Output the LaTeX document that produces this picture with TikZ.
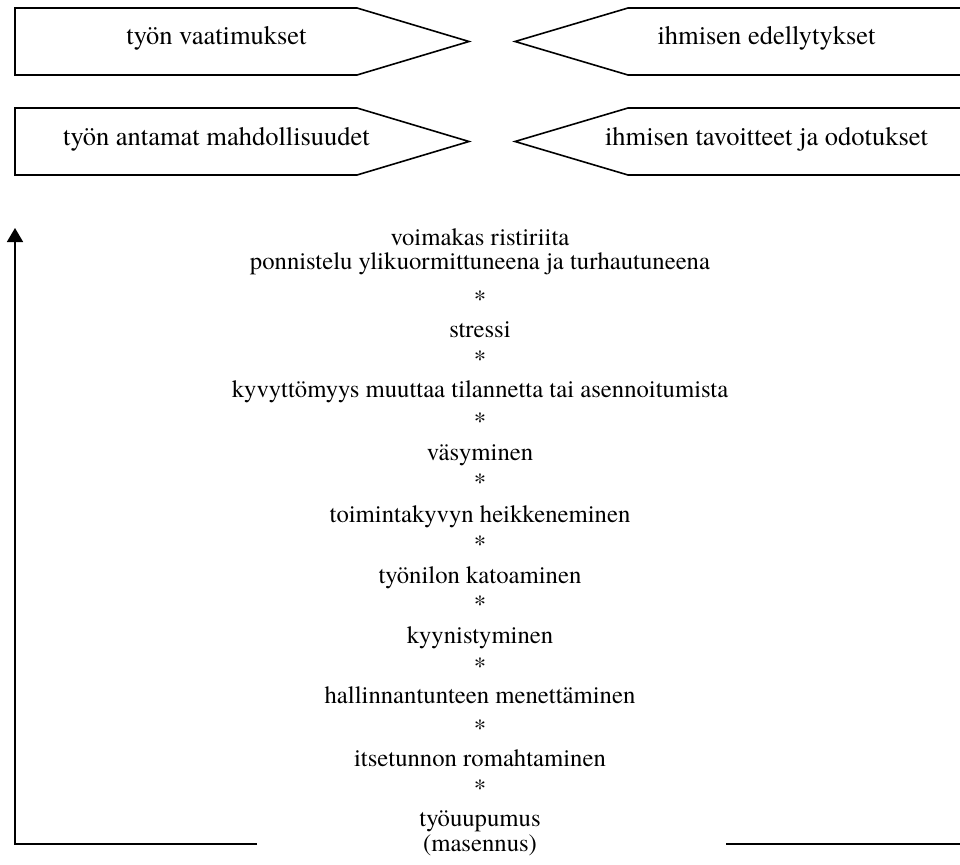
\documentclass[tikz,border=0pt]{standalone}
\usepackage{fontspec}
\setmainfont{TeX Gyre Termes}
\usetikzlibrary{arrows.meta}
\begin{document}
\begin{tikzpicture}[x=1pt,y=-1pt,
  boxline/.style={draw=black,line width=1.6pt,line join=miter},
  boxtext/.style={anchor=base,inner sep=0pt,font=\fontsize{26.5}{30}\selectfont},
  listtext/.style={anchor=base,inner sep=0pt,font=\fontsize{24.7}{30}\selectfont},
  axisline/.style={draw=black,line width=1.6pt}]
\useasboundingbox (0,0) rectangle (960,864);
\clip (0,0) rectangle (960,864);
% pointed boxes
\draw[boxline] (15,8) -- (357,8) -- (469,41.5) -- (357,75) -- (15,75) -- cycle;
\draw[boxline] (15,108) -- (357,108) -- (469,141.5) -- (357,175) -- (15,175) -- cycle;
\draw[boxline] (970,8) -- (628,8) -- (515,41.5) -- (628,75) -- (970,75);
\draw[boxline] (970,108) -- (628,108) -- (515,141.5) -- (628,175) -- (970,175);
\node[boxtext] (b1) at (216.5,45) {työn vaatimukset};
\node[boxtext] (b2) at (216.5,145) {työn antamat mahdollisuudet};
\node[boxtext] (b3) at (766.5,45) {ihmisen edellytykset};
\node[boxtext] (b4) at (766.5,145) {ihmisen tavoitteet ja odotukset};
% list
\node[listtext] (l1) at (480,245) {voimakas ristiriita};
\node[listtext] (l2) at (480,269) {ponnistelu ylikuormittuneena ja turhautuneena};
\node[listtext] (s1) at (480,307) {*};
\node[listtext] (l3) at (480,337) {stressi};
\node[listtext] (s2) at (480,367) {*};
\node[listtext] (l4) at (480,397) {kyvyttömyys muuttaa tilannetta tai asennoitumista};
\node[listtext] (s3) at (480,429) {*};
\node[listtext] (l5) at (480,460) {väsyminen};
\node[listtext] (s4) at (480,490) {*};
\node[listtext] (l6) at (480,522) {toimintakyvyn heikkeneminen};
\node[listtext] (s5) at (480,552) {*};
\node[listtext] (l7) at (480,583) {työnilon katoaminen};
\node[listtext] (s6) at (480,612) {*};
\node[listtext] (l8) at (480,643) {kyynistyminen};
\node[listtext] (s7) at (480,674) {*};
\node[listtext] (l9) at (480,703) {hallinnantunteen menettäminen};
\node[listtext] (s8) at (480,736) {*};
\node[listtext] (l10) at (480,766) {itsetunnon romahtaminen};
\node[listtext] (s9) at (480,796) {*};
\node[listtext] (l11) at (480,826) {työuupumus};
\node[listtext] (l12) at (480,851) {(masennus)};
% frame arrow
\coordinate (leftend) at (257,844);
\coordinate (corner) at (15,844);
\coordinate (top) at (15,228);
\coordinate (rightstart) at (726,844);
\coordinate (rightend) at (965,844);
\draw[axisline,-{Triangle[width=16pt,length=14pt]}] (leftend) -- (corner) -- (top);
\draw[axisline] (rightstart) -- (rightend);
\end{tikzpicture}
\end{document}
